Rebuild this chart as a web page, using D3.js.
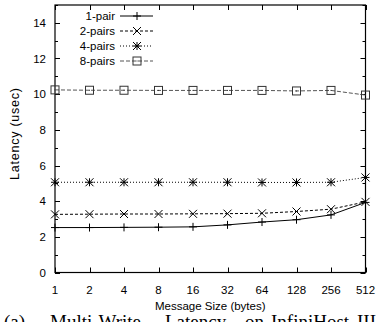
<!DOCTYPE html>
<html>
<head>
<meta charset="utf-8">
<script src="https://cdn.jsdelivr.net/npm/d3@7"></script>
<style>
  body { margin: 0; background: #fff; }
  svg text { font-family: "Liberation Sans", Arial, sans-serif; fill: #000; }
</style>
</head>
<body>
<svg id="chart" width="377" height="322"></svg>
<script>
"use strict";

// message sizes (bytes)
const sizes = ["1", "2", "4", "8", "16", "32", "64", "128", "256", "512"]
const onePair   = [2.52, 2.52, 2.53, 2.54, 2.56, 2.67, 2.83, 2.96, 3.23, 3.93]
const twoPairs  = [3.26, 3.27, 3.28, 3.28, 3.29, 3.30, 3.32, 3.42, 3.55, 3.96]
const fourPairs = [5.06, 5.06, 5.06, 5.06, 5.06, 5.06, 5.05, 5.05, 5.06, 5.33]
const eightPairs = [10.24, 10.22, 10.22, 10.21, 10.21, 10.21, 10.21, 10.18, 10.21, 9.95]
const seriesNames = ["1-pair", "2-pairs", "4-pairs", "8-pairs"]
const yTicks = [0, 2, 4, 6, 8, 10, 12, 14]
const captionWords = ["(a)", "Multi-Write", "Latency", "on", "InfiniHost", "III"]

const plotLeft = 55, plotRight = 365.5, plotTop = 5, plotBottom = 272.5

const svg = d3.select("#chart")

const x = d3.scalePoint().domain(sizes).range([plotLeft, plotRight])
const y = d3.scaleLinear().domain([0, 15]).range([plotBottom, plotTop])

const series = [
  {name: seriesNames[0], values: onePair, dash: null, color: "#000", marker: "plus"},
  {name: seriesNames[1], values: twoPairs, dash: "3,2", color: "#000", marker: "cross"},
  {name: seriesNames[2], values: fourPairs, dash: "1,2", color: "#000", marker: "star"},
  {name: seriesNames[3], values: eightPairs, dash: "4,2", color: "#555", marker: "square"}
]

// ticks, drawn inward on all four sides
let tickG = svg.append("g").attr("stroke", "#000").attr("stroke-width", 1)
d3.range(0, 16).forEach(v => {
  let len = (v % 2 === 0) ? 5 : 3
  let yy = Math.round(y(v)) + 0.5
  tickG.append("line").attr("x1", plotLeft).attr("x2", plotLeft + len).attr("y1", yy).attr("y2", yy)
  tickG.append("line").attr("x1", plotRight - len).attr("x2", plotRight).attr("y1", yy).attr("y2", yy)
})
sizes.forEach(s => {
  let xx = Math.round(x(s)) + 0.5
  tickG.append("line").attr("x1", xx).attr("x2", xx).attr("y1", plotBottom).attr("y2", plotBottom - 5)
  tickG.append("line").attr("x1", xx).attr("x2", xx).attr("y1", plotTop).attr("y2", plotTop + 5)
})

// frame
svg.append("rect")
  .attr("x", plotLeft).attr("y", plotTop)
  .attr("width", plotRight - plotLeft).attr("height", plotBottom - plotTop)
  .attr("fill", "none").attr("stroke", "#000").attr("stroke-width", 1.2)

// tick labels
svg.append("g").selectAll("text").data(yTicks).enter()
  .append("text")
  .attr("x", plotLeft - 9)
  .attr("y", d => y(d) + 4)
  .attr("text-anchor", "end")
  .attr("font-size", 11.5)
  .text(d => d)

svg.append("g").selectAll("text").data(sizes).enter()
  .append("text")
  .attr("x", d => x(d))
  .attr("y", plotBottom + 21)
  .attr("text-anchor", "middle")
  .attr("font-size", 11.5)
  .text(d => d)

// axis titles
svg.append("text")
  .attr("x", (plotLeft + plotRight) / 2)
  .attr("y", plotBottom + 37)
  .attr("text-anchor", "middle")
  .attr("font-size", 11.5)
  .text("Message Size (bytes)")

svg.append("text")
  .attr("transform", "translate(19,134) rotate(-90)")
  .attr("text-anchor", "middle")
  .attr("font-size", 12.5)
  .attr("textLength", 92)
  .attr("lengthAdjust", "spacing")
  .text("Latency (usec)")

function drawMarker(g, type, cx, cy, color){
  let r = 4
  if(type === "plus" || type === "star"){
    g.append("path").attr("d", "M" + (cx - r) + "," + cy + "H" + (cx + r) + "M" + cx + "," + (cy - r) + "V" + (cy + r))
      .attr("stroke", color).attr("stroke-width", 1).attr("fill", "none")
  }
  if(type === "cross" || type === "star"){
    g.append("path").attr("d", "M" + (cx - r) + "," + (cy - r) + "L" + (cx + r) + "," + (cy + r) +
                                "M" + (cx - r) + "," + (cy + r) + "L" + (cx + r) + "," + (cy - r))
      .attr("stroke", color).attr("stroke-width", 1).attr("fill", "none")
  }
  if(type === "square"){
    g.append("rect").attr("x", cx - r).attr("y", cy - r).attr("width", 2 * r).attr("height", 2 * r)
      .attr("stroke", color).attr("stroke-width", 1).attr("fill", "none")
    g.append("rect").attr("x", cx - 0.5).attr("y", cy - 0.5).attr("width", 1).attr("height", 1).attr("fill", color)
  }
}

let line = d3.line().x((d, i) => x(sizes[i])).y(d => y(d))

series.forEach(s => {
  let g = svg.append("g")
  g.append("path")
    .attr("d", line(s.values))
    .attr("fill", "none")
    .attr("stroke", s.color)
    .attr("stroke-width", 1)
    .attr("stroke-dasharray", s.dash)
  s.values.forEach((v, i) => drawMarker(g, s.marker, x(sizes[i]), y(v), s.color === "#555" ? "#333" : "#000"))
})

// legend
let legend = svg.append("g")
series.forEach((s, i) => {
  let ly = 16 + i * 15
  legend.append("text")
    .attr("x", 115).attr("y", ly + 4)
    .attr("text-anchor", "end")
    .attr("font-size", 11.5)
    .text(s.name)
  legend.append("line")
    .attr("x1", 120).attr("x2", 153).attr("y1", ly).attr("y2", ly)
    .attr("stroke", s.color).attr("stroke-width", 1)
    .attr("stroke-dasharray", s.dash)
  drawMarker(legend, s.marker, 137, ly, s.color === "#555" ? "#333" : "#000")
})

// caption, justified across the page and cut off by its bottom edge
const captionX = [4, 50, 165, 245, 271, 357]
svg.append("text")
  .attr("y", 328)
  .attr("font-size", 19)
  .style("font-family", "'Liberation Serif', 'Times New Roman', serif")
  .selectAll("tspan").data(captionWords).enter()
  .append("tspan")
  .attr("x", (d, i) => captionX[i])
  .text(d => d)
</script>
</body>
</html>
